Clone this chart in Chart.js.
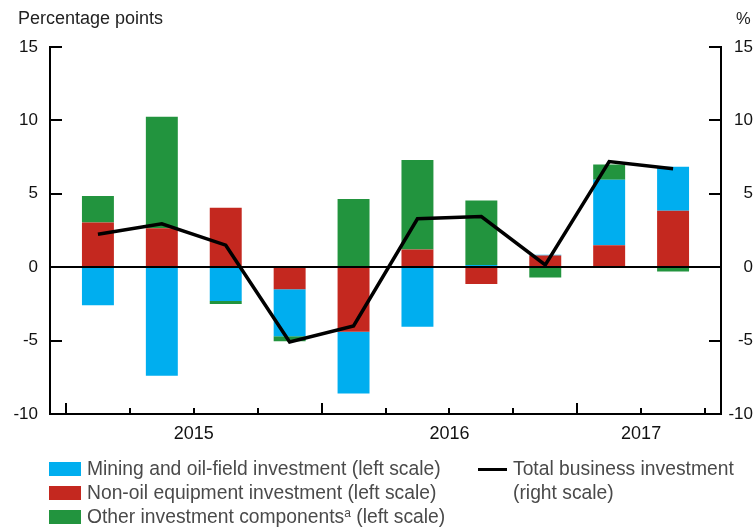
<!DOCTYPE html>
<html lang="en">
<head>
  <meta charset="UTF-8">
  <title>Business investment growth contributions</title>
  <script src="https://cdn.jsdelivr.net/npm/chart.js@4.4.1/dist/chart.umd.min.js"></script>
  <style>
    body {
      margin: 0;
      background: #fff;
      font-family: 'Liberation Sans', Arial, sans-serif;
    }

    .wrap {
      position: relative;
      width: 753px;
      height: 529px;
      overflow: hidden;
    }

    canvas {
      position: absolute;
      left: 0;
      top: 0;
    }

    .unit {
      position: absolute;
      top: 8px;
      font-size: 18px;
      color: #222;
    }

    .legend {
      position: absolute;
      top: 457px;
      font-size: 19.3px;
      line-height: 24px;
      color: #4a4a4a;
    }

    .legend .row {
      display: flex;
      align-items: center;
      height: 24px;
      white-space: nowrap;
    }

    .swatch {
      width: 32px;
      height: 14px;
      margin-right: 6px;
      flex: none;
    }

    .dash {
      width: 29px;
      height: 3px;
      background: #000;
      margin-right: 6px;
      flex: none;
    }

    sup {
      font-size: 12px;
      line-height: 0;
      vertical-align: 6px;
    }
  </style>
</head>
<body>
<div class="wrap">
  <canvas id="chart" width="753" height="529"></canvas>
  <div class="unit" style="left:18px">Percentage points</div>
  <div class="unit" style="left:736px; font-size:16.5px; top:9px">%</div>

  <div class="legend" style="left:49px">
    <div class="row"><span class="swatch" style="background:#00aeef"></span><span>Mining and oil-field investment (left scale)</span></div>
    <div class="row"><span class="swatch" style="background:#c4281f"></span><span>Non-oil equipment investment (left scale)</span></div>
    <div class="row"><span class="swatch" style="background:#22943e"></span><span>Other investment components<sup>a</sup> (left scale)</span></div>
  </div>
  <div class="legend" style="left:478px">
    <div class="row"><span class="dash"></span><span>Total business investment</span></div>
    <div class="row" style="padding-left:35px"><span>(right scale)</span></div>
  </div>
</div>

<script>
  // quarters shown on the x axis
  const quarters = ["2015 Q1", "2015 Q2", "2015 Q3", "2015 Q4",
                    "2016 Q1", "2016 Q2", "2016 Q3", "2016 Q4",
                    "2017 Q1", "2017 Q2"];
  const quarterYears = ["2015", "2015", "2015", "2015",
                        "2016", "2016", "2016", "2016",
                        "2017", "2017"];
  const yearLabels = ["2015", "2016", "2017"];

  // contributions, percentage points (left scale)
  const mining = [-2.6, -7.4, -2.3, -3.2, -4.2, -4.05, 0.15, 0.05, 4.45, 3.0];
  const nonOil = [3.05, 2.65, 4.05, -1.5, -4.4, 1.2, -1.15, 0.8, 1.5, 3.85];
  const other  = [1.8, 7.6, -0.2, -0.35, 4.65, 6.1, 4.4, -0.7, 1.05, -0.3];

  // total business investment, % (right scale)
  const total = [2.25, 2.95, 1.5, -5.1, -4.0, 3.3, 3.45, 0.15, 7.2, 6.7];

  const yTicks = [-10, -5, 0, 5, 10, 15];

  // each quarter sits between two boundaries i and i+1
  const pts = arr => arr.map((v, i) => ({ x: i + 0.5, y: v }));

  const yearCentre = y => {
    const first = quarterYears.indexOf(y);
    const last = quarterYears.lastIndexOf(y);
    return (first + last + 1) / 2;
  };

  const tickFont = { family: "'Liberation Sans', Arial, sans-serif", size: 17 };

  // inward tick marks, quarter marks and the zero line
  const axisDecor = {
    id: 'axisDecor',
    afterDatasetsDraw(chart) {
      const { ctx, chartArea: a, scales } = chart;
      const y = scales.y, x = scales.x;
      ctx.save();
      ctx.strokeStyle = '#000';
      ctx.lineWidth = 2;
      ctx.beginPath();
      yTicks.forEach(v => {
        const py = Math.round(y.getPixelForValue(v));
        ctx.moveTo(a.left, py);
        ctx.lineTo(a.left + 12, py);
        ctx.moveTo(a.right - 12, py);
        ctx.lineTo(a.right, py);
      });
      const z = Math.round(y.getPixelForValue(0));
      ctx.moveTo(a.left, z);
      ctx.lineTo(a.right, z);
      for (let i = 0; i <= quarters.length; i++) {
        const px = Math.round(x.getPixelForValue(i));
        const major = i < quarters.length && quarters[i].endsWith('Q1');
        ctx.moveTo(px, a.bottom);
        ctx.lineTo(px, a.bottom - (major ? 11 : 6));
      }
      ctx.stroke();
      ctx.restore();
    }
  };

  new Chart(document.getElementById("chart"), {
    type: 'bar',
    data: {
      datasets: [
        {
          type: 'line',
          label: "Total business investment (right scale)",
          data: pts(total),
          yAxisID: 'y1',
          borderColor: "#000",
          borderWidth: 3.5,
          pointRadius: 0,
          tension: 0,
          order: 0
        },
        {
          label: "Non-oil equipment investment (left scale)",
          data: pts(nonOil),
          backgroundColor: "#c4281f",
          order: 1
        },
        {
          label: "Mining and oil-field investment (left scale)",
          data: pts(mining),
          backgroundColor: "#00aeef",
          order: 1
        },
        {
          label: "Other investment components (left scale)",
          data: pts(other),
          backgroundColor: "#22943e",
          order: 1
        }
      ]
    },
    options: {
      responsive: false,
      animation: false,
      layout: { padding: { top: 47, left: 0, right: 0, bottom: 0 } },
      datasets: { bar: { categoryPercentage: 1, barPercentage: 0.5 } },
      plugins: {
        legend: { display: false },
        tooltip: { enabled: false }
      },
      scales: {
        x: {
          type: 'linear',
          stacked: true,
          offset: false,
          min: -0.25,
          max: quarters.length + 0.25,
          afterBuildTicks: s => { s.ticks = yearLabels.map(y => ({ value: yearCentre(y) })); },
          afterFit: s => { s.height = 115; },
          grid: { display: false, drawTicks: false },
          border: { color: '#000', width: 2 },
          ticks: {
            callback: (v, i) => yearLabels[i],
            font: { family: tickFont.family, size: 18 },
            color: '#111',
            padding: 9,
            maxRotation: 0
          }
        },
        y: {
          stacked: true,
          min: -10,
          max: 15,
          afterFit: s => { s.width = 50; },
          grid: { display: false, drawTicks: false },
          border: { color: '#000', width: 2 },
          ticks: { stepSize: 5, font: tickFont, color: '#111', padding: 12 }
        },
        y1: {
          position: 'right',
          min: -10,
          max: 15,
          afterFit: s => { s.width = 32; },
          grid: { display: false, drawTicks: false },
          border: { color: '#000', width: 2 },
          ticks: { stepSize: 5, font: tickFont, color: '#111', padding: 2, crossAlign: 'far' }
        }
      }
    },
    plugins: [axisDecor]
  });
</script>
</body>
</html>
